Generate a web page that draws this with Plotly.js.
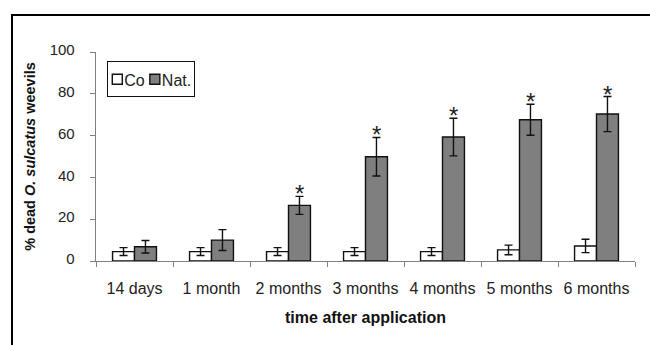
<!DOCTYPE html>
<html><head><meta charset="utf-8">
<script src="https://cdn.plot.ly/plotly-3.0.1.min.js"></script>
<style>
body{margin:0;padding:0;background:#fff;}
#wrap{position:relative;width:650px;height:345px;}
#chart{width:650px;height:345px;}
#frame{position:absolute;left:11px;top:14px;right:0;bottom:0;border-left:2px solid #000;border-top:2px solid #000;pointer-events:none;}
</style>
</head><body>
<div id="wrap"><div id="chart"></div><div id="frame"></div></div>
<script>
var categories = ["14 days","1 month","2 months","3 months","4 months","5 months","6 months"];
var coValues  = [4.5, 4.5, 4.5, 4.5, 4.5, 5.3, 7.2];
var coErrors  = [1.9, 1.9, 1.9, 1.9, 1.9, 2.3, 3.2];
var natValues = [6.8, 10.0, 26.6, 49.9, 59.3, 67.6, 70.3];
var natErrors = [3.0, 5.0, 4.3, 9.2, 9.0, 7.4, 8.4];
var significant = [false, false, true, true, true, true, true];
var yTicks = [0, 20, 40, 60, 80, 100];

var font = "Liberation Sans, Arial, sans-serif";
var traces = [
  {type:"bar", name:"Co", x:categories, y:coValues,
   marker:{color:"#ffffff", line:{color:"#111", width:1.4}},
   error_y:{type:"data", array:coErrors, visible:true, color:"#111", thickness:1.4, width:4}},
  {type:"bar", name:"Nat.", x:categories, y:natValues,
   marker:{color:"#7f7f7f", line:{color:"#111", width:1.4}},
   error_y:{type:"data", array:natErrors, visible:true, color:"#111", thickness:1.4, width:4}}
];

var annotations = [];
categories.forEach(function(c, i){
  if (significant[i]) {
    annotations.push({x:c, y:natValues[i] + natErrors[i], xref:"x", yref:"y",
      text:"*", showarrow:false, xshift:11, yshift:-13, yanchor:"bottom",
      font:{family:font, size:24, color:"#222"}});
  }
});

var layout = {
  width:650, height:345,
  margin:{l:96, r:15, t:52, b:84},
  paper_bgcolor:"#fff", plot_bgcolor:"#fff",
  barmode:"group", bargap:0.43, bargroupgap:0,
  font:{family:font, size:16, color:"#222"},
  showlegend:true,
  legend:{orientation:"h", x:0.02, y:0.955, xanchor:"left", yanchor:"top",
    bordercolor:"#111", borderwidth:1, bgcolor:"#fff",
    font:{family:font, size:16, color:"#222"}, itemwidth:30, tracegroupgap:0},
  xaxis:{type:"category", showline:true, linecolor:"#808080", linewidth:1.3,
    ticks:"outside", tickson:"boundaries", ticklen:5, tickcolor:"#808080",
    showgrid:false, zeroline:false, ticklabelstandoff:12,
    tickfont:{family:font, size:16, color:"#222"},
    title:{text:"<b>time after application</b>", font:{family:font, size:16, color:"#111"}, standoff:16}},
  yaxis:{range:[0,100], tickvals:yTicks, showline:true, linecolor:"#808080", linewidth:1.3,
    ticks:"outside", ticklen:5, tickcolor:"#808080", showgrid:false, zeroline:false,
    tickfont:{family:font, size:15, color:"#222"},
    title:{text:"<b>% dead <i>O. sulcatus</i> weevils</b>", font:{family:font, size:14.5, color:"#111"}, standoff:22}},
  annotations:annotations
};
Plotly.newPlot("chart", traces, layout, {displayModeBar:false, staticPlot:true}).then(function(gd){
  try {
    // y tick labels sit further from the axis in the original
    gd.querySelectorAll(".ytick text").forEach(function(t){
      var tr = t.getAttribute("transform") || "";
      t.setAttribute("transform", "translate(-12,-2) " + tr);
    });
  } catch (e) {}
  try {
    // compact legend: symbol immediately followed by its label, like the original
    var legend = gd.querySelector(".legend");
    var items = legend.querySelectorAll(".traces");
    var bg = legend.querySelector("rect.bg");
    var bgRect = bg.getBoundingClientRect();
    var cursor = bgRect.left + 5;
    items.forEach(function(it){
      var sym = it.querySelector(".legendpoints path");
      if (sym) sym.setAttribute("d", "M5,5H-5V-5H5Z");
      var m = /translate\(([-\d.]+)[ ,]+([-\d.]+)\)/.exec(it.getAttribute("transform"));
      var tx = parseFloat(m[1]), ty = parseFloat(m[2]);
      var sr = sym.getBoundingClientRect();
      var dx = cursor - sr.left;
      it.setAttribute("transform", "translate(" + (tx + dx) + "," + ty + ")");
      sr = sym.getBoundingClientRect();
      var txt = it.querySelector("text.legendtext");
      var tr = txt.getBoundingClientRect();
      var shift = (sr.right + 2) - tr.left;
      txt.setAttribute("x", parseFloat(txt.getAttribute("x")) + shift);
      tr = txt.getBoundingClientRect();
      cursor = tr.right + 5;
    });
    bg.setAttribute("width", cursor - bgRect.left - 2);
  } catch (e) {}
});
</script>
</body></html>
